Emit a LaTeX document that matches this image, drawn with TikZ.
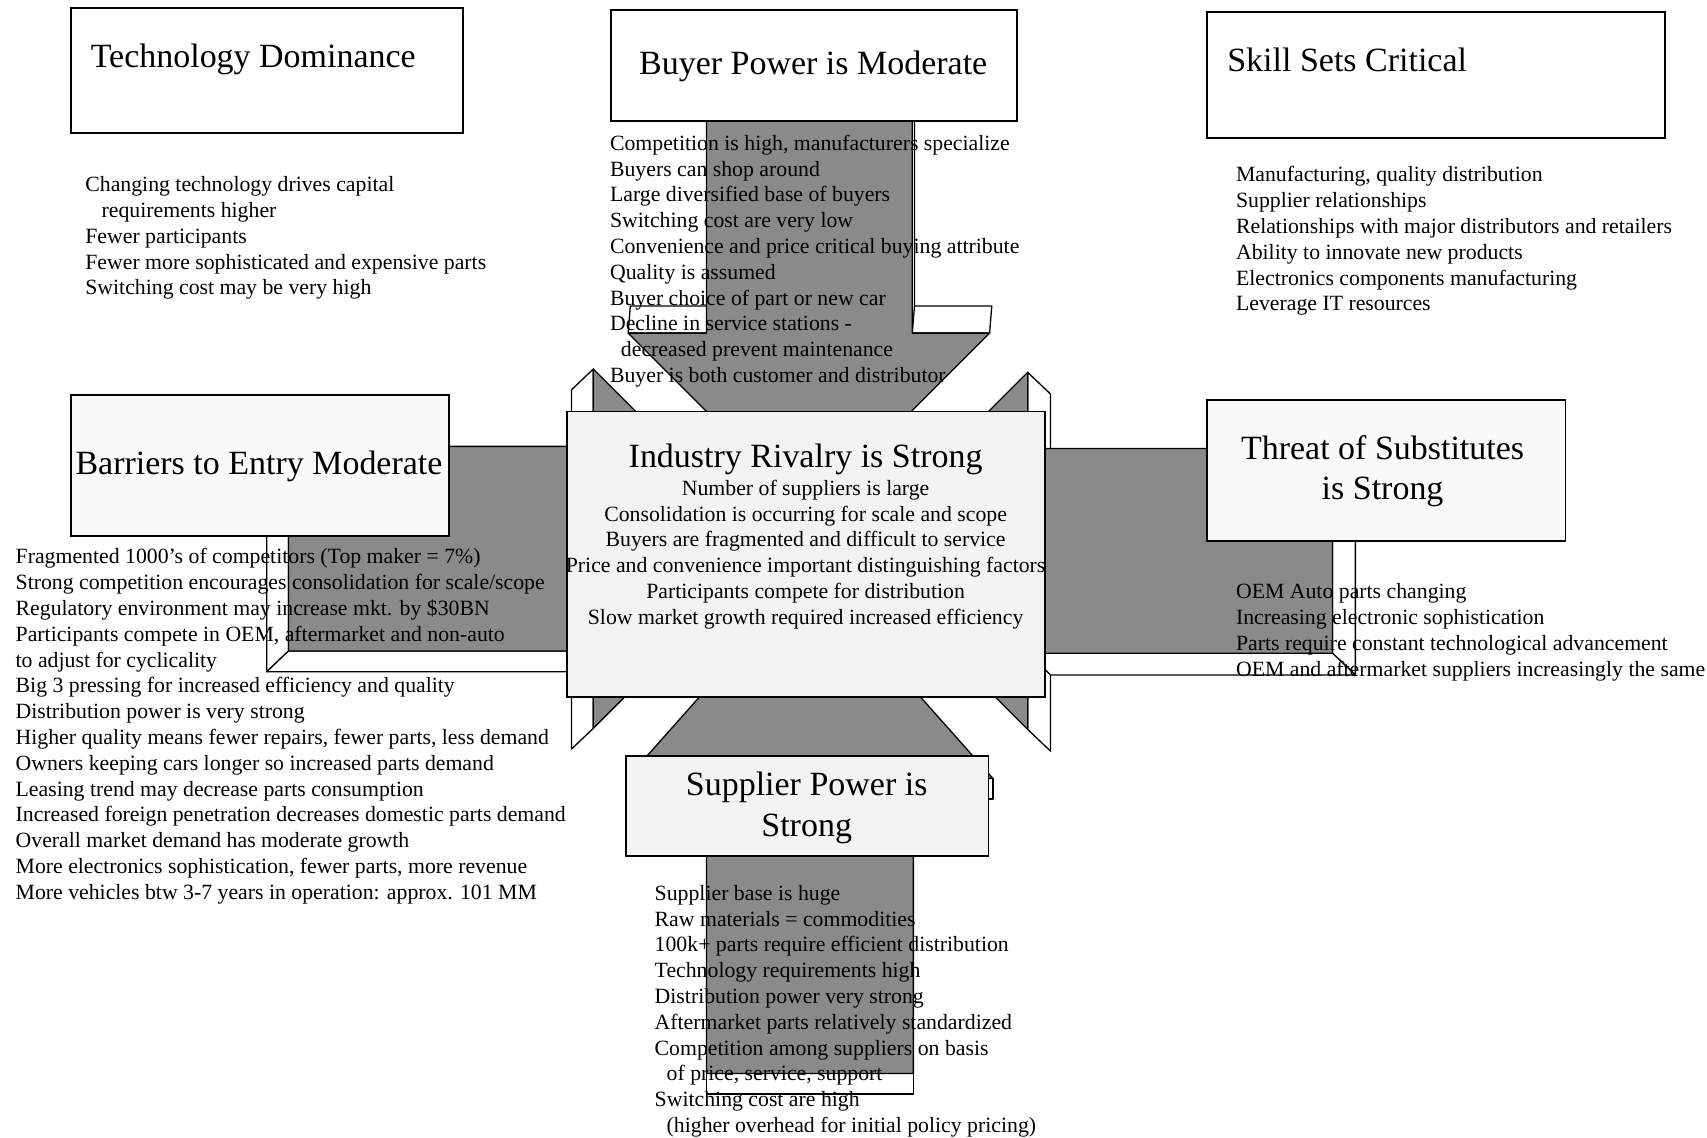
\documentclass[tikz,border=0pt]{standalone}
\usepackage{fontspec}
\setmainfont{Liberation Serif}
\definecolor{arrowgray}{RGB}{138,138,138}
\definecolor{boxgray}{RGB}{243,243,243}
\definecolor{boxlight}{RGB}{250,250,250}
\newcommand\flist[1]{\begin{tabular}[t]{@{}l@{}}#1\end{tabular}}
\newcommand\clist[1]{\begin{tabular}[t]{@{}c@{}}#1\end{tabular}}
\begin{document}
\begin{tikzpicture}[x=0.5pt,y=-0.5pt,
  arrowfront/.style={fill=arrowgray,draw=black,line width=0.6pt,line join=round},
  arrowside/.style={fill=white,draw=black,line width=0.6pt,line join=round},
  boxw/.style={fill=white,draw=black,line width=0.9pt},
  boxg/.style={fill=boxgray,draw=black,line width=0.9pt},
  boxl/.style={fill=boxlight,draw=black,line width=0.9pt},
  title/.style={font=\fontsize{15.6}{18.5}\selectfont,inner sep=0pt},
  body/.style={font=\fontsize{10}{11.85}\selectfont,inner sep=0pt}]
\fill[white] (0,0) rectangle (1568,1045);
\useasboundingbox (0,0) rectangle (1568,1045);

% ---- left arrow (Barriers -> centre)
\draw[arrowside] (265,410) -- (265,598) -- (245,617) -- (245,429) -- cycle;
\draw[arrowside] (265,598) -- (545,598) -- (525,617) -- (245,617) -- cycle;
\draw[arrowside] (545,410) -- (545,339) -- (525,358) -- (525,429) -- cycle;
\draw[arrowside] (545,598) -- (545,669) -- (525,688) -- (525,617) -- cycle;
\draw[arrowfront] (265,410) -- (545,410) -- (545,339) -- (710,504) -- (545,669) -- (545,598) -- (265,598) -- cycle;

% ---- right arrow (Substitutes -> centre)
\draw[arrowside] (1224,412) -- (1224,600) -- (1245,620) -- (1245,432) -- cycle;
\draw[arrowside] (944,600) -- (1224,600) -- (1245,620) -- (965,620) -- cycle;
\draw[arrowside] (944,342) -- (944,412) -- (965,432) -- (965,362) -- cycle;
\draw[arrowside] (944,600) -- (944,670) -- (965,690) -- (965,620) -- cycle;
\draw[arrowfront] (1224,412) -- (944,412) -- (944,342) -- (780,506) -- (944,670) -- (944,600) -- (1224,600) -- cycle;

% ---- top arrow (Buyer -> centre)
\draw[arrowside] (577,306) -- (909,306) -- (911,281) -- (579,281) -- cycle;
\draw[arrowside] (838,100) -- (838,306) -- (840,281) -- (840,75) -- cycle;
\draw[arrowfront] (649,100) -- (649,306) -- (577,306) -- (743,472) -- (909,306) -- (838,306) -- (838,100) -- cycle;

% ---- bottom arrow (Supplier -> centre)
\draw[arrowside] (649,986) -- (839,986) -- (839,1005) -- (649,1005) -- cycle;
\draw[arrowside] (576,715) -- (912,715) -- (912,734) -- (576,734) -- cycle;
\draw[arrowfront] (649,986) -- (649,715) -- (576,715) -- (744,526) -- (912,715) -- (839,715) -- (839,986) -- cycle;

% ---- boxes
\draw[boxw] (65,7) rectangle (425,122);
\draw[boxw] (561,9) rectangle (934,111);
\draw[boxw] (1109,11) rectangle (1529,127);
\draw[boxl] (65,363) rectangle (412,492);
\draw[boxg] (521,378) rectangle (960,640);
\draw[boxl] (1109,367) rectangle (1438,497);
\draw[boxg] (575,694) rectangle (908,786);

% ---- titles
\node[title,anchor=base west] (techT) at (83,62) {Technology Dominance};
\node[title,anchor=base] (buyT) at (747,68) {Buyer Power is Moderate};
\node[title,anchor=base west] (skillT) at (1127,66) {Skill Sets Critical};
\node[title,anchor=base west] (barT) at (69,436) {Barriers to Entry Moderate};
\node[title,anchor=base] (rivT) at (740,429) {Industry Rivalry is Strong};
\node[title,anchor=base] (subT) at (1270,422) {\clist{Threat of Substitutes\\ is Strong}};
\node[title,anchor=base] (supT) at (741,731) {\clist{Supplier Power is\\ Strong}};

% ---- lists
\node[body,anchor=base west] (techL) at (78,176) {\flist{%
Changing technology drives capital\\
\hspace*{7.5pt}requirements higher\\
Fewer participants\\
Fewer more sophisticated and expensive parts\\
Switching cost may be very high}};

\node[body,anchor=base west] (buyL) at (560,138) {\flist{%
Competition is high, manufacturers specialize\\
Buyers can shop around\\
Large diversified base of buyers\\
Switching cost are very low\\
Convenience and price critical buying attribute\\
Quality is assumed\\
Buyer choice of part or new car\\
Decline in service stations -\\
\hspace*{5pt}decreased prevent maintenance\\
Buyer is both customer and distributor}};

\node[body,anchor=base west] (skillL) at (1135,167) {\flist{%
Manufacturing, quality distribution\\
Supplier relationships\\
Relationships with major distributors and retailers\\
Ability to innovate new products\\
Electronics components manufacturing\\
Leverage IT resources}};

\node[body,anchor=base west] (barL) at (14,518) {\flist{%
Fragmented 1000's of competitors (Top maker = 7\%)\\
Strong competition encourages consolidation for scale/scope\\
Regulatory environment may increase mkt. by \$30BN\\
Participants compete in OEM, aftermarket and non-auto\\
to adjust for cyclicality\\
Big 3 pressing for increased efficiency and quality\\
Distribution power is very strong\\
Higher quality means fewer repairs, fewer parts, less demand\\
Owners keeping cars longer so increased parts demand\\
Leasing trend may decrease parts consumption\\
Increased foreign penetration decreases domestic parts demand\\
Overall market demand has moderate growth\\
More electronics sophistication, fewer parts, more revenue\\
More vehicles btw 3-7 years in operation: approx. 101 MM}};

\node[body,anchor=base] (rivL) at (740,455) {\clist{%
Number of suppliers is large\\
Consolidation is occurring for scale and scope\\
Buyers are fragmented and difficult to service\\
Price and convenience important distinguishing factors\\
Participants compete for distribution\\
Slow market growth required increased efficiency}};

\node[body,anchor=base west] (subL) at (1135,550) {\flist{%
OEM Auto parts changing\\
Increasing electronic sophistication\\
Parts require constant technological advancement\\
OEM and aftermarket suppliers increasingly the same}};

\node[body,anchor=base west] (supL) at (601,827) {\flist{%
Supplier base is huge\\
Raw materials = commodities\\
100k+ parts require efficient distribution\\
Technology requirements high\\
Distribution power very strong\\
Aftermarket parts relatively standardized\\
Competition among suppliers on basis\\
\hspace*{5.5pt}of price, service, support\\
Switching cost are high\\
\hspace*{5.5pt}(higher overhead for initial policy pricing)}};
\end{tikzpicture}
\end{document}
